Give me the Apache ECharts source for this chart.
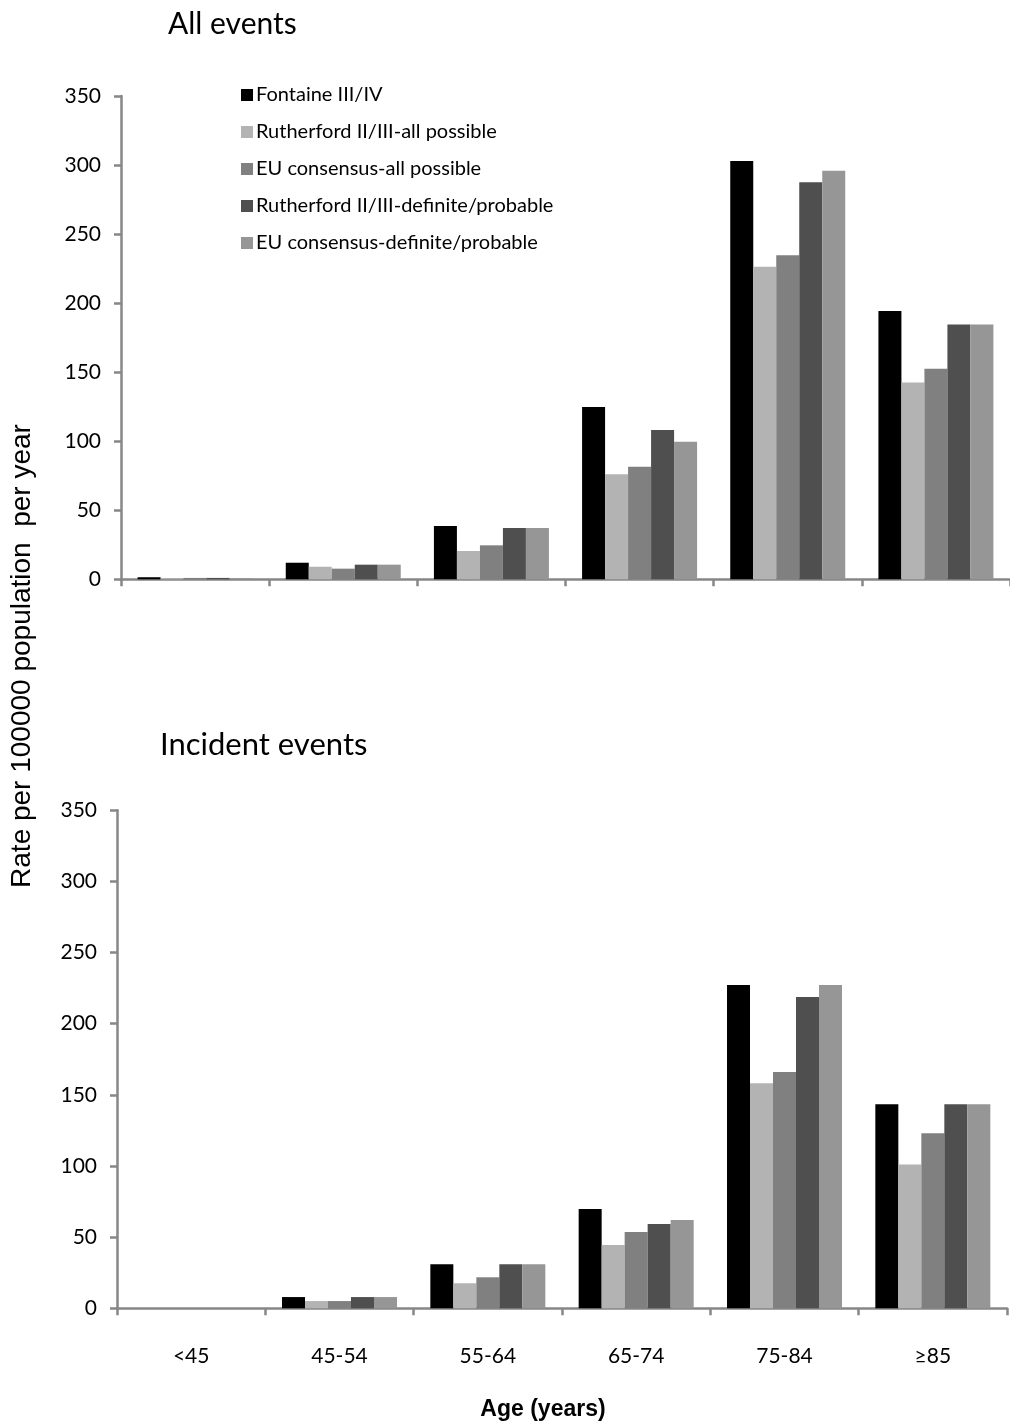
<!DOCTYPE html>
<html>
<head>
<meta charset="utf-8">
<script src="https://cdn.jsdelivr.net/npm/echarts@6/dist/echarts.min.js"></script>
<style>
html,body{margin:0;padding:0;background:#fff;}
#chart{width:1010px;height:1425px;}
</style>
</head>
<body>
<div id="chart"></div>
<script>
const categories = ['<45', '45-54', '55-64', '65-74', '75-84', '≥85'];
const seriesNames = ['Fontaine III/IV', 'Rutherford II/III-all possible', 'EU consensus-all possible', 'Rutherford II/III-definite/probable', 'EU consensus-definite/probable'];
const seriesColors = ['#000000', '#b3b3b3', '#808080', '#4f4f4f', '#969696'];
const yTicks = [0, 350, 50];

// All events
const allFontaine   = [1.5, 12, 38.6, 124.8, 302.9, 194.3];
const allRuthAll    = [0.8, 9.1, 20.5, 76, 226.4, 142.5];
const allEUAll      = [1, 7.7, 24.6, 81.5, 234.6, 152.5];
const allRuthDef    = [1, 10.6, 37.1, 108.1, 287.5, 184.6];
const allEUDef      = [0.8, 10.6, 37.1, 99.6, 295.9, 184.6];

// Incident events
const incFontaine   = [0, 7.9, 30.9, 69.8, 227.2, 143.4];
const incRuthAll    = [0, 5.1, 17.6, 44.5, 158.1, 101];
const incEUAll      = [0, 5.1, 21.8, 53.6, 166, 123];
const incRuthDef    = [0, 7.9, 30.9, 59.2, 218.8, 143.4];
const incEUDef      = [0, 7.9, 30.9, 62, 227.2, 143.4];

const allData = [allFontaine, allRuthAll, allEUAll, allRuthDef, allEUDef];
const incData = [incFontaine, incRuthAll, incEUAll, incRuthDef, incEUDef];

const axisGray = '#878787';
const mainFont = 'Lato';

function xAxis(gridIndex, showLabels) {
  return {
    type: 'category', gridIndex: gridIndex, data: categories,
    axisLine: {lineStyle: {color: axisGray, width: 2.5}},
    axisTick: {show: true, length: 7, lineStyle: {color: axisGray, width: 2.5}},
    axisLabel: {show: showLabels, margin: 37, fontFamily: mainFont, fontSize: 21, color: '#000'}
  };
}
function yAxis(gridIndex) {
  return {
    type: 'value', gridIndex: gridIndex, min: yTicks[0], max: yTicks[1], interval: yTicks[2],
    splitLine: {show: false},
    axisLine: {show: true, lineStyle: {color: axisGray, width: 2.5}},
    axisTick: {show: true, length: 7, lineStyle: {color: axisGray, width: 2.5}},
    axisLabel: {margin: 20, fontFamily: mainFont, fontSize: 21, color: '#000'}
  };
}

const series = [];
[allData, incData].forEach(function (set, gi) {
  set.forEach(function (vals, i) {
    series.push({
      type: 'bar', name: seriesNames[i], xAxisIndex: gi, yAxisIndex: gi,
      data: vals, barWidth: 23, barGap: '0%',
      itemStyle: {color: seriesColors[i]},
      emphasis: {disabled: true}
    });
  });
});

const chart = echarts.init(document.getElementById('chart'), null, {renderer: 'canvas'});
chart.setOption({
  animation: false,
  backgroundColor: '#fff',
  title: [
    {text: 'All events', left: 163, top: 4, textStyle: {fontFamily: mainFont, fontSize: 30, fontWeight: 'normal', color: '#000'}},
    {text: 'Incident events', left: 155, top: 724, textStyle: {fontFamily: mainFont, fontSize: 31, fontWeight: 'normal', color: '#000'}}
  ],
  legend: {
    orient: 'vertical', left: 236, top: 80,
    itemWidth: 12, itemHeight: 12, itemGap: 17,
    icon: 'rect',
    data: seriesNames,
    textStyle: {fontFamily: mainFont, fontSize: 20, color: '#000', lineHeight: 20, padding: [0, 0, 0, -2]}
  },
  grid: [
    {left: 121, top: 96, width: 890, height: 483.3},
    {left: 117, top: 810.3, width: 890, height: 498}
  ],
  xAxis: [xAxis(0, false), xAxis(1, true)],
  yAxis: [yAxis(0), yAxis(1)],
  graphic: [
    {type: 'text', x: 22, y: 656, rotation: Math.PI / 2,
     style: {text: 'Rate per 100000 population  per year', font: '28px "Liberation Sans"', fill: '#000', textAlign: 'center', textVerticalAlign: 'middle'}},
    {type: 'text', x: 543, y: 1410,
     style: {text: 'Age (years)', font: 'bold 23px "Liberation Sans"', fill: '#000', textAlign: 'center', textVerticalAlign: 'middle'}}
  ],
  series: series
});
</script>
</body>
</html>
